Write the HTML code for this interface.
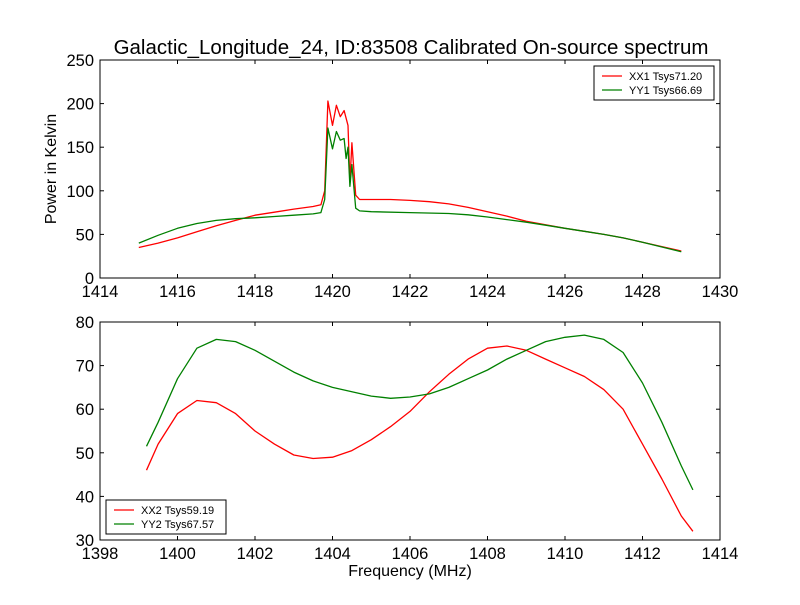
<!DOCTYPE html>
<html><head><meta charset="utf-8"><style>
body{margin:0;background:#fff;}
svg{font-family:"Liberation Sans","DejaVu Sans",sans-serif;}
</style></head><body>
<svg id="c" width="800" height="600" viewBox="0 0 800 600">
<rect width="800" height="600" fill="#fff"/>
<text x="411" y="54" font-size="20.5" text-anchor="middle">Galactic_Longitude_24, ID:83508 Calibrated On-source spectrum</text>
</svg>
<script>
const topFreq=[1415,1415.5,1416,1416.5,1417,1417.5,1418,1418.5,1419,1419.5,1419.7,1419.8,1419.88,1420.0,1420.1,1420.2,1420.3,1420.4,1420.45,1420.5,1420.6,1420.7,1421,1421.5,1422,1422.5,1423,1423.5,1424,1424.5,1425,1425.5,1426,1426.5,1427,1427.5,1428,1428.5,1429];
const xx1=[35,40,46,53,60,66,72,75.5,79,82,84,100,203,175,198,185,192,175,110,155,95,90,90,90,89,87.5,85,81,76,71,65,61,57,53.5,50,46,41,36,31];
const yy1Freq=[1415,1415.5,1416,1416.5,1417,1417.5,1418,1418.5,1419,1419.5,1419.7,1419.8,1419.88,1420.0,1420.1,1420.2,1420.3,1420.35,1420.4,1420.45,1420.5,1420.6,1420.7,1421,1422,1423,1423.5,1424,1424.5,1425,1425.5,1426,1426.5,1427,1427.5,1428,1428.5,1429];
const yy1=[40,49,57,62.5,66,68,69,70.5,72,73.5,75,90,172,148,168,158,160,137,150,105,130,80,77,76,75,74,72.5,70,67,64,60.5,57,53.5,50,46,41,35.5,30];
const botFreq=[1399.2,1399.5,1400,1400.5,1401,1401.5,1402,1402.5,1403,1403.5,1404,1404.5,1405,1405.5,1406,1406.5,1407,1407.5,1408,1408.5,1409,1409.5,1410,1410.5,1411,1411.5,1412,1412.5,1413,1413.3];
const xx2=[46,52,59,62,61.5,59,55,52,49.5,48.7,49,50.5,53,56,59.5,64,68,71.5,74,74.5,73.5,71.5,69.5,67.5,64.5,60,52,44,35.5,32];
const yy2=[51.5,57,67,74,76,75.5,73.5,71,68.5,66.5,65,64,63,62.5,62.8,63.5,65,67,69,71.5,73.5,75.5,76.5,77,76,73,66,57,47,41.5];
const topXTicks=[1414,1416,1418,1420,1422,1424,1426,1428,1430];
const topYTicks=[0,50,100,150,200,250];
const botXTicks=[1398,1400,1402,1404,1406,1408,1410,1412,1414];
const botYTicks=[30,40,50,60,70,80];

const svg=document.getElementById('c');
const NS='http://www.w3.org/2000/svg';
function mk(t,a,p){const e=document.createElementNS(NS,t);for(const k in a)e.setAttribute(k,a[k]);(p||svg).appendChild(e);return e;}

function panel(name,top,x0,x1,y0,y1,xt,yt,series,legend,legPos,xlabel,ylabel){
  const L=100,R=720,T=top,B=top+218;
  const sx=v=>L+(v-x0)/(x1-x0)*(R-L);
  const sy=v=>B-(v-y0)/(y1-y0)*(B-T);
  const g=mk('g',{});
  
  
  series.forEach(s=>{
    const d=s.f.map((f,i)=>(i?'L':'M')+sx(f).toFixed(1)+','+sy(s.v[i]).toFixed(1)).join('');
    const p=mk('path',{d:d,fill:'none',stroke:s.c,'stroke-width':1.3,'stroke-linejoin':'round'},g);
    
    
  });
  const fr=mk('rect',{x:L,y:T,width:R-L,height:B-T,fill:'none',stroke:'#000','stroke-width':1},g);
  
  
  xt.forEach(v=>{
    const x=sx(v);
    mk('line',{x1:x,y1:B,x2:x,y2:B-4,stroke:'#000'},g);
    mk('line',{x1:x,y1:T,x2:x,y2:T+4,stroke:'#000'},g);
    const t=mk('text',{x:x,y:B+19,'font-size':16.5,'text-anchor':'middle'},g);t.textContent=v;
    
    
  });
  yt.forEach(v=>{
    const y=sy(v);
    mk('line',{x1:L,y1:y,x2:L+4,y2:y,stroke:'#000'},g);
    mk('line',{x1:R,y1:y,x2:R-4,y2:y,stroke:'#000'},g);
    const t=mk('text',{x:L-6,y:y+6,'font-size':16.5,'text-anchor':'end'},g);t.textContent=v;
    
    
  });
  const lg=mk('g',{},g);
  
  
  mk('rect',{x:legPos[0],y:legPos[1],width:120,height:34,fill:'#fff',stroke:'#000'},lg);
  legend.forEach((l,i)=>{
    const y=legPos[1]+10+i*14;
    mk('line',{x1:legPos[0]+8,y1:y,x2:legPos[0]+28,y2:y,stroke:l.c,'stroke-width':1.3},lg);
    const t=mk('text',{x:legPos[0]+35,y:y+4,'font-size':11},lg);t.textContent=l.t;
    
    
  });
  if(xlabel){const t=mk('text',{x:410,y:B+36,'font-size':16,'text-anchor':'middle'},g);t.textContent=xlabel;
    
    }
  if(ylabel){const t=mk('text',{x:0,y:0,'font-size':16,'text-anchor':'middle',transform:`translate(56,${(T+B)/2}) rotate(-90)`},g);t.textContent=ylabel;
    
    }
}
panel('top',60,1414,1430,0,250,topXTicks,topYTicks,
  [{f:topFreq,v:xx1,c:'#ff0000',n:'xx1'},{f:yy1Freq,v:yy1,c:'#008000',n:'yy1'}],
  [{c:'#ff0000',t:'XX1 Tsys71.20'},{c:'#008000',t:'YY1 Tsys66.69'}],[594,66],null,'Power in Kelvin');
panel('bottom',322,1398,1414,30,80,botXTicks,botYTicks,
  [{f:botFreq,v:xx2,c:'#ff0000',n:'xx2'},{f:botFreq,v:yy2,c:'#008000',n:'yy2'}],
  [{c:'#ff0000',t:'XX2 Tsys59.19'},{c:'#008000',t:'YY2 Tsys67.57'}],[106,500],'Frequency (MHz)',null);
</script>
</body></html>
